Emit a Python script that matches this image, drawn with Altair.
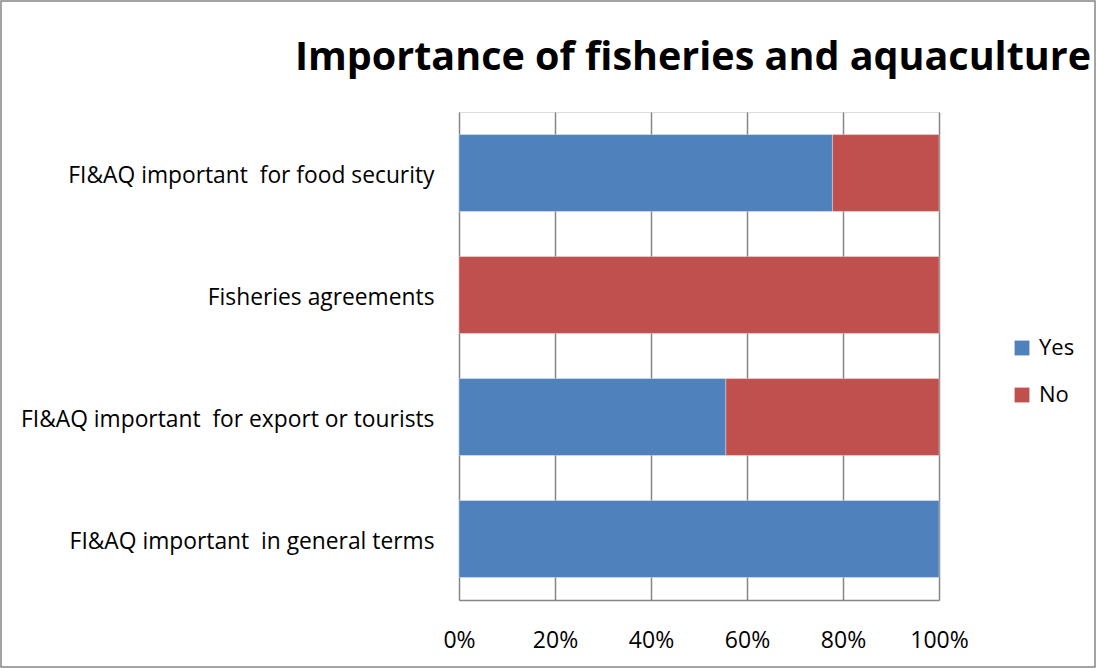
import altair as alt
import pandas as pd

title_text = "Importance of fisheries and aquaculture"
categories = [
    "FI&AQ important\u00a0 for food security",
    "Fisheries agreements",
    "FI&AQ important\u00a0 for export or tourists",
    "FI&AQ important\u00a0 in general terms",
]
yes_share = [0.778, 0.0, 0.556, 1.0]
no_share = [0.222, 1.0, 0.444, 0.0]
series = ["Yes", "No"]
colors = ["#4F81BD", "#C0504D"]

rows = []
for c, y, n in zip(categories, yes_share, no_share):
    rows.append({"cat": c, "series": "Yes", "order": 0, "value": y})
    rows.append({"cat": c, "series": "No", "order": 1, "value": n})
df = pd.DataFrame(rows)

FONT = "Open Sans"
GRID = "#868686"

bars = alt.Chart(df).transform_filter("datum.value > 0").mark_bar(
    stroke="#ffffff", strokeOpacity=0.35, strokeWidth=1
).encode(
    y=alt.Y("cat:N", sort=categories, title=None,
            scale=alt.Scale(paddingInner=0.37, paddingOuter=0.185),
            axis=alt.Axis(ticks=False, domain=False, labelPadding=25, labelOffset=3,
                          labelFontSize=22.8, labelFont=FONT, labelColor="#000000",
                          labelLimit=600)),
    x=alt.X("value:Q", stack="zero", title=None,
            scale=alt.Scale(domain=[0, 1], nice=False),
            axis=alt.Axis(format=".0%", values=[0, 0.2, 0.4, 0.6, 0.8, 1.0],
                          ticks=False, domain=True, domainColor=GRID, domainWidth=1.5,
                          grid=True, gridColor=GRID, gridWidth=1.5,
                          labelFlush=False, labelBound=False, labelOverlap=False,
                          labelPadding=29, labelFontSize=23, labelFont=FONT,
                          labelColor="#000000")),
    color=alt.Color("series:N", scale=alt.Scale(domain=series, range=colors),
                    legend=alt.Legend(title=None, orient="none", legendX=552, legendY=225,
                                      symbolType="square", symbolSize=220,
                                      symbolStrokeWidth=0, labelFontSize=22,
                                      labelFont=FONT, labelColor="#000000",
                                      rowPadding=25, labelOffset=6)),
    order=alt.Order("order:Q"),
)

title = alt.Chart(pd.DataFrame({"t": [title_text]})).mark_text(
    font=FONT, fontSize=39.5, fontWeight="bold", color="#000000",
    align="center", baseline="alphabetic"
).encode(
    text="t:N", x=alt.value(234), y=alt.value(-42),
)

border = alt.Chart(pd.DataFrame({"a": [0]})).mark_rect(
    fillOpacity=0, stroke=GRID, strokeWidth=1.5
).encode(
    x=alt.value(-458), x2=alt.value(1096 - 459 - 1),
    y=alt.value(-111), y2=alt.value(668 - 112 - 1),
)

chart = alt.layer(bars, title, border).properties(
    width=480, height=488,
    autosize=alt.AutoSizeParams(type="none"),
    padding={"left": 459, "top": 112, "right": 157, "bottom": 68},
).configure_view(stroke=None).configure(background="#ffffff")

chart.save("out.html", embed_options={"renderer": "svg", "actions": False})
